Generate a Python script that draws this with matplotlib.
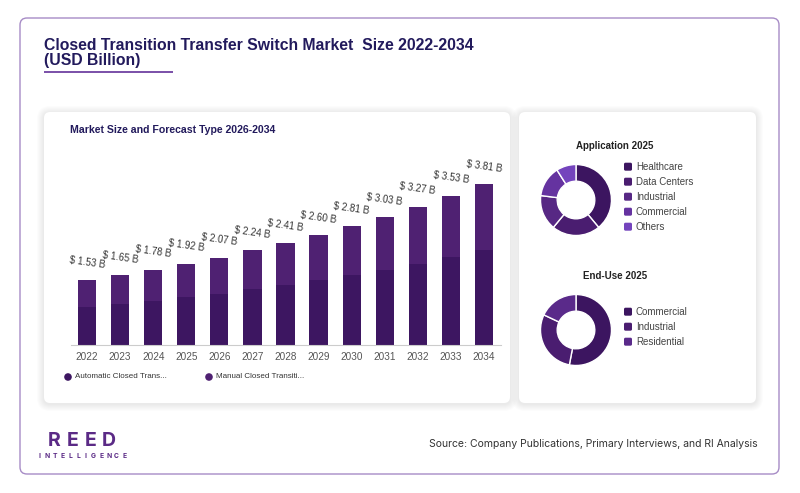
import matplotlib
matplotlib.use('Agg')
import matplotlib.pyplot as plt
from matplotlib.patches import FancyBboxPatch, Circle

# ---------------- data ----------------
years = ['2022', '2023', '2024', '2025', '2026', '2027', '2028',
         '2029', '2030', '2031', '2032', '2033', '2034']
totals = [1.53, 1.65, 1.78, 1.92, 2.07, 2.24, 2.41, 2.60, 2.81, 3.03, 3.27, 3.53, 3.81]
automatic = [0.89, 0.96, 1.04, 1.13, 1.21, 1.32, 1.42, 1.53, 1.65, 1.77, 1.91, 2.08, 2.24]
manual = [0.64, 0.69, 0.74, 0.79, 0.86, 0.92, 0.99, 1.07, 1.16, 1.26, 1.36, 1.45, 1.57]
series_names = ['Automatic Closed Trans...', 'Manual Closed Transiti...']

app_labels = ['Healthcare', 'Data Centers', 'Industrial', 'Commercial', 'Others']
app_values = [39, 22, 16, 14, 9]
end_labels = ['Commercial', 'Industrial', 'Residential']
end_values = [53, 29, 18]

# ---------------- styles ----------------
C_AUTO = '#3d1661'
C_MAN = '#4f2172'
APP_COLORS = ['#3c1560', '#4a1d70', '#572884', '#6533a0', '#7444bd']
END_COLORS = ['#3c1560', '#4a1d70', '#5a2a8a']
NAVY = '#221a5c'
LOGO = '#5b2a86'
FONT = ['Liberation Sans', 'DejaVu Sans']

W, H = 800, 493
fig = plt.figure(figsize=(8, 4.93), dpi=100)
fig.patch.set_facecolor('white')
plt.rcParams['font.family'] = FONT

bg = fig.add_axes([0, 0, 1, 1])
bg.set_xlim(0, W)
bg.set_ylim(H, 0)
bg.axis('off')


def rr(x0, y0, x1, y1, r, **kw):
    bg.add_patch(FancyBboxPatch((x0 + r, y0 + r), (x1 - x0 - 2 * r), (y1 - y0 - 2 * r),
                                boxstyle=f"round,pad={r}", **kw))


def ax_px(x0, y0, x1, y1):
    return fig.add_axes([x0 / W, 1 - y1 / H, (x1 - x0) / W, (y1 - y0) / H])


# outer card
rr(20, 18, 779, 474, 7, fc='white', ec='#a78cc6', lw=1.0)

# title
bg.text(44, 45, 'Closed Transition Transfer Switch Market  Size 2022-2034',
        fontsize=11.35, fontweight='bold', color=NAVY, va='center', ha='left')
bg.text(44, 61, '(USD Billion)', fontsize=11.35, fontweight='bold',
        color=NAVY, va='center', ha='left')
bg.plot([44, 173], [72, 72], color='#7a4fa8', lw=1.4, solid_capstyle='butt')

# panels with soft shadow
for (x0, y0, x1, y1) in [(44, 112, 510, 403), (519, 112, 756, 403)]:
    for i in range(7, 0, -1):
        rr(x0 - i, y0 - i + 1, x1 + i, y1 + i + 1, 6 + i, fc='#000000', alpha=0.010, ec='none')
    rr(x0, y0, x1, y1, 6, fc='white', ec='none')

# ---------------- bar chart ----------------
bg.text(70, 130, 'Market Size and Forecast Type 2026-2034', fontsize=7.6,
        fontweight='bold', color=NAVY, va='center', ha='left')

ax = ax_px(70.5, 155, 500.5, 345)
ax.set_facecolor('none')
x = list(range(len(years)))
ax.bar(x, automatic, width=0.55, color=C_AUTO, label=series_names[0])
ax.bar(x, manual, width=0.55, bottom=automatic, color=C_MAN, label=series_names[1])
ax.set_xlim(-0.5, len(years) - 0.5)
ax.set_ylim(0, 190 / 42.2)
ax.set_xticks(x)
ax.set_xticklabels(years)
ax.tick_params(axis='x', length=0, pad=5, labelsize=7.2, labelcolor='#555555')
ax.set_yticks([])
for s in ['top', 'right', 'left']:
    ax.spines[s].set_visible(False)
ax.spines['bottom'].set_color('#cccccc')
ax.spines['bottom'].set_linewidth(0.8)
for i, t in enumerate(totals):
    ax.annotate(f'$ {t:.2f} B', (i, t), xytext=(0, 13), textcoords='offset points',
                ha='center', va='center', rotation=-8, fontsize=7, color='#333333')

# legend for bars
for cx, col, name in [(68, C_AUTO, series_names[0]), (209, C_MAN, series_names[1])]:
    bg.add_patch(Circle((cx, 377), 3.8, fc=col, ec='none'))
    bg.text(cx + 7, 377, name, fontsize=5.8, color='#333333', va='center', ha='left')


# ---------------- donuts ----------------
def donut(cy, title, labels, values, colors, title_y, leg_y0):
    a = ax_px(576 - 40, cy - 40, 576 + 40, cy + 40)
    a.pie(values, colors=colors, startangle=90, counterclock=False, radius=1,
          wedgeprops=dict(width=0.47, edgecolor='white', linewidth=1))
    a.set_xlim(-1.127, 1.127)
    a.set_ylim(-1.127, 1.127)
    a.set_aspect('equal')
    a.axis('off')
    bg.text(615, title_y, title, fontsize=7, fontweight='bold', color='#222222',
            va='center', ha='center')
    for k, (lab, col) in enumerate(zip(labels, colors)):
        yy = leg_y0 + 15 * k
        rr(624, yy - 4, 632, yy + 4, 1.5, fc=col, ec='none')
        bg.text(636, yy, lab, fontsize=7, color='#444444', va='center', ha='left')


donut(200, 'Application 2025', app_labels, app_values, APP_COLORS, 146, 166.7)
donut(330, 'End-Use 2025', end_labels, end_values, END_COLORS, 276, 311.7)

# ---------------- footer ----------------
logo_word = 'REED'
for k, ch in enumerate(logo_word):
    bg.text(54.5 + k * 18, 441, ch, fontsize=14, fontweight='bold', color=LOGO,
            va='center', ha='center', family=['Inter', 'DejaVu Sans'])
logo_sub = 'INTELLIGENCE'
for k, ch in enumerate(logo_sub):
    bg.text(39.5 + k * 7.7, 456, ch, fontsize=4.8, fontweight='bold', color=LOGO,
            va='center', ha='center', family=['Inter', 'DejaVu Sans'])
bg.text(758, 444, 'Source: Company Publications, Primary Interviews, and RI Analysis',
        fontsize=7.5, color='#333333', va='center', ha='right',
        family=['Inter', 'DejaVu Sans'])

fig.savefig('out.png', dpi=100)
